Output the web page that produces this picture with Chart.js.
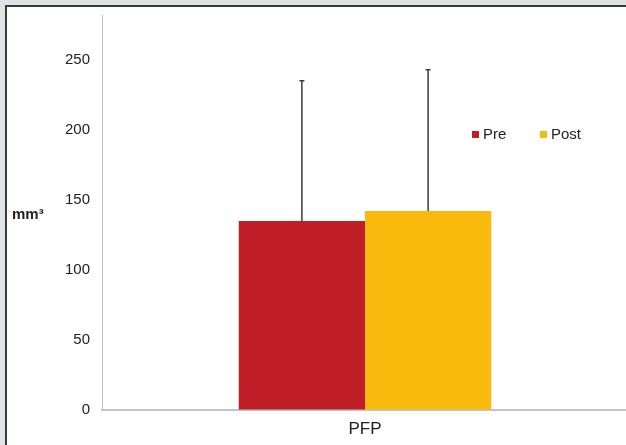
<!DOCTYPE html>
<html>
<head>
<meta charset="utf-8">
<script src="https://cdn.jsdelivr.net/npm/chart.js@4"></script>
<style>
  html, body { margin: 0; padding: 0; }
  body { width: 626px; height: 445px; background: #dfe3e6; position: relative; overflow: hidden; }
  #frame { position: absolute; left: 5px; top: 5px; right: 0; bottom: 0; background: #fff;
           border-left: 2px solid #3a3a3a; border-top: 2px solid #3a3a3a; }
  #wrap { position: absolute; left: 0; top: 0; width: 632px; height: 445px; }
</style>
</head>
<body>
<div id="frame"></div>
<div id="wrap"><canvas id="c" width="632" height="445"></canvas></div>
<script>
const categories = ["PFP"];
const seriesNames = ["Pre", "Post"];
const preValues = [135];
const postValues = [142];
const preErrors = [100];
const postErrors = [101];
const yTicks = [0, 50, 100, 150, 200, 250];
const yMax = 282;
const yTitle = "mm³";
const colors = ["#bf1e26", "#f9b90d"];

const errorBars = {
  id: 'errorBars',
  afterDatasetsDraw(chart) {
    const ctx = chart.ctx;
    const y = chart.scales.y;
    const errs = [preErrors, postErrors];
    chart.data.datasets.forEach((ds, i) => {
      const meta = chart.getDatasetMeta(i);
      meta.data.forEach((bar, j) => {
        const v = ds.data[j];
        const top = y.getPixelForValue(v + errs[i][j]);
        const base = y.getPixelForValue(v);
        ctx.save();
        ctx.strokeStyle = '#3c3c3c';
        ctx.lineWidth = 1.5;
        ctx.beginPath();
        ctx.moveTo(bar.x, base);
        ctx.lineTo(bar.x, top);
        ctx.moveTo(bar.x - 2.5, top);
        ctx.lineTo(bar.x + 2.5, top);
        ctx.stroke();
        ctx.restore();
      });
    });
  }
};

const extras = {
  id: 'extras',
  afterDraw(chart) {
    const ctx = chart.ctx;
    ctx.save();
    ctx.fillStyle = '#222';
    ctx.font = 'bold 15px "Liberation Sans", Arial, sans-serif';
    ctx.textBaseline = 'middle';
    ctx.textAlign = 'left';
    ctx.fillText(yTitle, 12, 215);
    const items = chart.data.datasets;
    const xs = [472, 540];
    ctx.font = '15px "Liberation Sans", Arial, sans-serif';
    items.forEach((ds, i) => {
      ctx.fillStyle = ds.backgroundColor;
      ctx.fillRect(xs[i], 131, 7, 7);
      ctx.fillStyle = '#222';
      ctx.fillText(ds.label, xs[i] + 11, 135);
    });
    ctx.restore();
  }
};

new Chart(document.getElementById('c'), {
  type: 'bar',
  data: {
    labels: categories,
    datasets: [
      { label: seriesNames[0], data: preValues, backgroundColor: colors[0] },
      { label: seriesNames[1], data: postValues, backgroundColor: colors[1] }
    ]
  },
  options: {
    responsive: false,
    animation: false,
    devicePixelRatio: 1,
    layout: { padding: { left: 0, right: 4, top: 15, bottom: 0 } },
    plugins: { legend: { display: false }, tooltip: { enabled: false } },
    datasets: { bar: { categoryPercentage: 0.48, barPercentage: 1.0 } },
    scales: {
      x: {
        grid: { display: true, drawOnChartArea: false, drawTicks: false },
        border: { display: true, color: '#c4c4c4', width: 2 },
        ticks: { color: '#222', font: { size: 17, family: '"Liberation Sans", Arial, sans-serif' }, padding: 9 },
        afterFit(s) { s.height = 35; s.paddingLeft = 0; s.paddingRight = 0; }
      },
      y: {
        min: 0, max: yMax,
        grid: { display: true, drawOnChartArea: false, drawTicks: false },
        border: { display: true, color: '#c0c0c0', width: 1 },
        afterBuildTicks(s) { s.ticks = yTicks.map(v => ({ value: v })); },
        ticks: { color: '#222', font: { size: 15, family: '"Liberation Sans", Arial, sans-serif' }, padding: 12 },
        afterFit(s) { s.width = 102; s.paddingTop = 0; s.paddingBottom = 0; }
      }
    }
  },
  plugins: [errorBars, extras]
});
</script>
</body>
</html>
